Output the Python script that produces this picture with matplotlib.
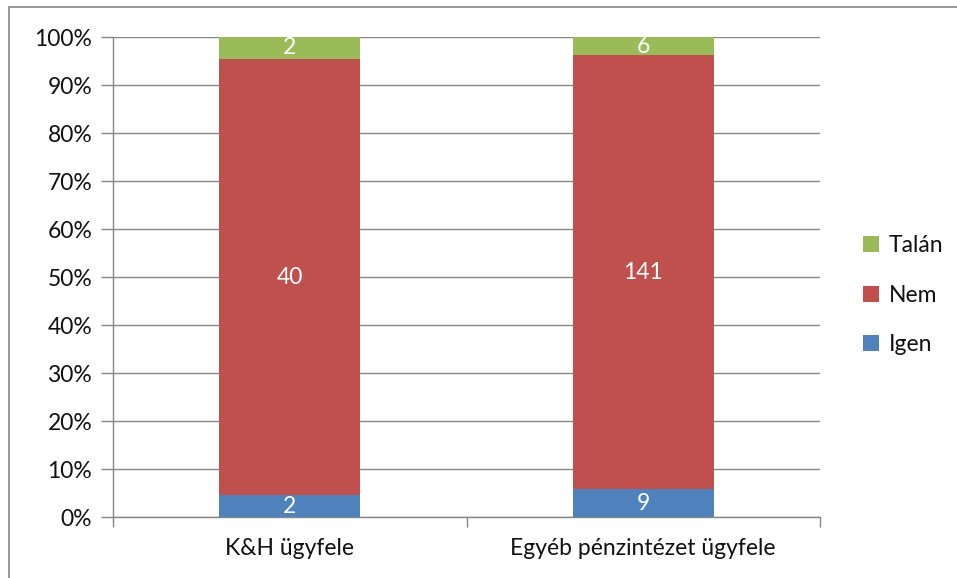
import matplotlib.pyplot as plt
from matplotlib.patches import Rectangle
import numpy as np

categories = ["K&H ügyfele", "Egyéb pénzintézet ügyfele"]
igen = [2, 9]
nem = [40, 141]
talan = [2, 6]
series_names = ["Igen", "Nem", "Talán"]
colors = ["#4F81BD", "#C0504D", "#9BBB59"]
y_ticks = [0, 10, 20, 30, 40, 50, 60, 70, 80, 90, 100]

plt.rcParams['font.family'] = ['Lato', 'DejaVu Sans']
FS = 16.5
GRID = "#868686"
TXT = "#111111"

fig = plt.figure(figsize=(9.57, 5.78), dpi=100)
ax = fig.add_axes([113 / 957, 1 - 517 / 578, (820 - 113) / 957, (517 - 37) / 578])

counts = np.array([igen, nem, talan], dtype=float)
totals = counts.sum(axis=0)
shares = counts / totals * 100
x = np.arange(len(categories))
bottom = np.zeros(len(categories))
handles = []
for name, col, cnt, sh in zip(series_names, colors, counts, shares):
    bars = ax.bar(x, sh, bottom=bottom, width=0.4, color=col, label=name, zorder=3)
    handles.append(bars)
    for xi, b, h, c in zip(x, bottom, sh, cnt):
        ax.text(xi, b + h / 2, f"{int(c)}", ha="center", va="center",
                color="white", fontsize=FS, zorder=4)
    bottom += sh

ax.set_xlim(-0.5, len(categories) - 0.5)
ax.set_ylim(0, 100)
ax.set_yticks(y_ticks)
ax.set_yticklabels([f"{t}%" for t in y_ticks], fontsize=FS, color=TXT)
ax.yaxis.grid(True, color=GRID, linewidth=1)
ax.set_axisbelow(True)

ax.set_xticks(x)
ax.set_xticklabels(categories, fontsize=FS, color=TXT)
ax.tick_params(axis="x", length=0, pad=15)
ax.set_xticks([-0.5, 0.5, 1.5], minor=True)
ax.tick_params(axis="x", which="minor", length=7, color=GRID, width=1)
ax.tick_params(axis="y", length=9, color=GRID, width=1, pad=6)

for side in ["top", "right"]:
    ax.spines[side].set_visible(False)
for side in ["left", "bottom"]:
    ax.spines[side].set_color(GRID)
    ax.spines[side].set_linewidth(1)

leg = ax.legend(handles[::-1], series_names[::-1], loc="center left",
                bbox_to_anchor=(1.032, 0.462), frameon=False, fontsize=FS,
                handlelength=0.7, handleheight=0.7, handletextpad=0.4,
                labelspacing=1.25)
for t in leg.get_texts():
    t.set_color(TXT)

# chart frame
fig.patches.append(Rectangle((9 / 957, -0.1), 1.2, (1 - 7 / 578) + 0.1,
                             transform=fig.transFigure, fill=False,
                             edgecolor=GRID, linewidth=1.2))

fig.savefig("out.png", dpi=100)
